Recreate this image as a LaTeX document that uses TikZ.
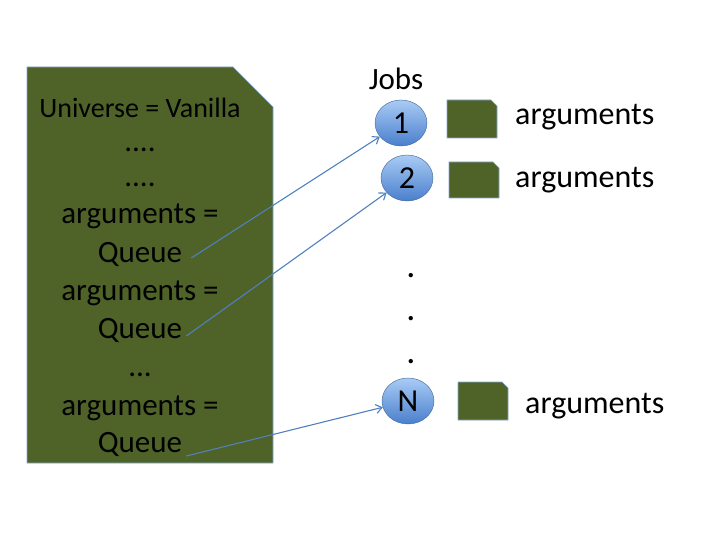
\documentclass[tikz,border=0pt]{standalone}
\usepackage{fontspec}
\setmainfont{Carlito}
\usetikzlibrary{arrows.meta,shapes.geometric,positioning}
\definecolor{olivedoc}{HTML}{4F6228}
\definecolor{edgeblue}{HTML}{4F81BD}
\definecolor{jobtop}{HTML}{A9CBF5}
\definecolor{jobbottom}{HTML}{4A7FCC}
\tikzset{
    x=1pt, y=-1pt,
    >={Straight Barb[length=6pt,width=9pt]},
    doc/.style={fill=olivedoc, draw=edgeblue!70, line width=0.6pt},
    job/.style={ellipse, minimum width=52pt, minimum height=46pt, inner sep=0pt,
        draw=edgeblue!80!black, line width=0.4pt, top color=jobtop, bottom color=jobbottom,
        font=\fontsize{32}{34}\selectfont},
    codeline/.style={anchor=base, inner sep=1pt, font=\fontsize{31}{36}\selectfont},
    arglabel/.style={anchor=base west, inner sep=0pt, font=\fontsize{32}{36}\selectfont},
    link/.style={->, draw=edgeblue, line width=1.1pt},
}

\begin{document}
\begin{tikzpicture}
    \useasboundingbox (0,0) rectangle (720,540);

    % submit file
    \draw[doc] (27,67) -- (233,67) -- (273,107) -- (273,463) -- (27,463) -- cycle;
    \node[codeline, font=\fontsize{28}{32}\selectfont] (univ) at (140,118) {Universe = Vanilla};
    \node[codeline] (dotsa) at (140,152) {....};
    \node[codeline] (dotsb) at (140,187) {....};
    \node[codeline] (arga) at (140,224) {arguments =};
    \node[codeline] (qa) at (140,262) {Queue};
    \node[codeline] (argb) at (140,300) {arguments =};
    \node[codeline] (qb) at (140,338) {Queue};
    \node[codeline] (dotsc) at (140,376) {...};
    \node[codeline] (argc) at (140,415) {arguments =};
    \node[codeline] (qc) at (140,452) {Queue};

    % jobs
    \node[codeline, font=\fontsize{31}{34}\selectfont] (jobs) at (396,90) {Jobs};
    \node[job] (j1) at (401,123) {1};
    \node[job] (j2) at (407,178) {2};
    \node[job] (jn) at (408,401) {N};
    \foreach \y [count=\i] in {274,317,360}
        \node[codeline, font=\fontsize{36}{36}\selectfont] (vd\i) at (411,\y+3) {.};

    % argument files
    \foreach \x/\y/\w/\h in {447/100/50/38, 449/162/50/36, 458/382/50/38}
        \draw[doc] (\x,\y) -- (\x+\w-6,\y) -- (\x+\w,\y+6) -- (\x+\w,\y+\h) -- (\x,\y+\h) -- cycle;
    \node[arglabel] (l1) at (515,125) {arguments};
    \node[arglabel] (l2) at (515,188) {arguments};
    \node[arglabel] (ln) at (525,413) {arguments};

    \draw[link] ([xshift=8pt,yshift=4pt]qa.base east) -- (j1);
    \draw[link] ([xshift=3pt,yshift=2pt]qb.base east) -- (j2);
    \draw[link] ([xshift=3pt,yshift=-4pt]qc.base east) -- (jn);
\end{tikzpicture}
\end{document}
